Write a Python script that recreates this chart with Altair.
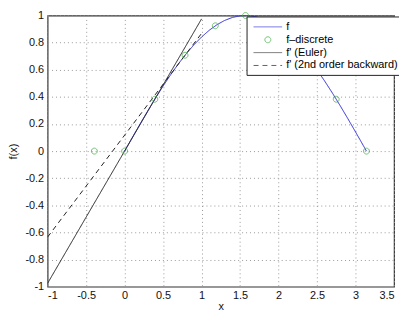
import altair as alt
import pandas as pd

series_names = ["f", "f\u2013discrete", "f' (Euler)", "f' (2nd order backward)"]
series_colors = ["#2a2ad6", "#3aa83a", "#222222", "#222222"]

f_x = [0, 0.1, 0.2, 0.3, 0.4, 0.5, 0.6, 0.7, 0.8, 0.9, 1.0, 1.1, 1.2, 1.3, 1.4, 1.5,
       1.6, 1.7, 1.8, 1.9, 2.0, 2.1, 2.2, 2.3, 2.4, 2.5, 2.6, 2.7, 2.8, 2.9, 3.0, 3.1, 3.1416]
f_y = [0, 0.0998, 0.1987, 0.2955, 0.3894, 0.4794, 0.5646, 0.6442, 0.7174, 0.7833, 0.8415,
       0.8912, 0.9320, 0.9636, 0.9854, 0.9975, 0.9996, 0.9917, 0.9738, 0.9463, 0.9093,
       0.8632, 0.8085, 0.7457, 0.6755, 0.5985, 0.5155, 0.4274, 0.3350, 0.2392, 0.1411,
       0.0416, 0]

disc_x = [-0.3927, 0, 0.3927, 0.7854, 1.1781, 1.5708, 2.7489, 3.1416]
disc_y = [0, 0, 0.3827, 0.7071, 0.9239, 1.0, 0.3827, 0]

euler_x = [-1, 1]
euler_y = [-0.975, 0.975]

back_x = [-1, 1]
back_y = [-0.634, 0.868]

x_ticks = [-1, -0.5, 0, 0.5, 1, 1.5, 2, 2.5, 3, 3.5]
y_ticks = [-1, -0.8, -0.6, -0.4, -0.2, 0, 0.2, 0.4, 0.6, 0.8, 1]

rows = []
for xs, ys, name in [(f_x, f_y, series_names[0]), (euler_x, euler_y, series_names[2]),
                     (back_x, back_y, series_names[3])]:
    for i, (a, b) in enumerate(zip(xs, ys)):
        rows.append({"x": a, "y": b, "series": name, "order": i})
lines_df = pd.DataFrame(rows)
disc_df = pd.DataFrame({"x": disc_x, "y": disc_y, "series": series_names[1]})

font = "Liberation Sans"
label_expr = "replace(format(datum.value, '~g'), '\u2212', '-')"

# unit-box symbol paths: a long horizontal stroke and a small circle
stroke_path = "M-2.4,0H2.4"
circle_path = "M0.5,0A0.5,0.5 0 1,1 -0.5,0A0.5,0.5 0 1,1 0.5,0Z"

xenc = alt.X("x:Q", scale=alt.Scale(domain=[-1, 3.5], nice=False),
             axis=alt.Axis(values=x_ticks, title="x", labelExpr=label_expr,
                           labelPadding=3, titlePadding=0))
yenc = alt.Y("y:Q", scale=alt.Scale(domain=[-1, 1], nice=False),
             axis=alt.Axis(values=y_ticks, title="f(x)", labelExpr=label_expr,
                           labelPadding=4, titlePadding=6))

legend = alt.Legend(orient="none", legendX=201, legendY=1, title=None,
                    strokeColor="#222", fillColor="white", padding=4,
                    labelFont=font, labelFontSize=11, symbolStrokeWidth=1,
                    symbolSize=144, symbolOffset=11, rowPadding=1, labelOffset=12,
                    cornerRadius=0)

color = alt.Color("series:N", scale=alt.Scale(domain=series_names, range=series_colors),
                  sort=series_names, title=None, legend=legend)

lines = alt.Chart(lines_df).mark_line(strokeWidth=1, clip=True).encode(
    x=xenc, y=yenc, color=color, detail="series:N", order="order:Q",
    strokeDash=alt.StrokeDash("series:N", scale=alt.Scale(domain=series_names,
                              range=[[1, 0], [1, 0], [1, 0], [5, 4]]), sort=series_names,
                              title=None, legend=legend),
)

points = alt.Chart(disc_df).mark_point(filled=False, strokeWidth=1, size=144).encode(
    x=xenc, y=yenc, color=color,
    shape=alt.Shape("series:N", scale=alt.Scale(domain=series_names,
                    range=[stroke_path, circle_path, stroke_path, stroke_path]),
                    sort=series_names, title=None, legend=legend),
)

chart = alt.layer(lines, points).properties(
    width=350, height=274, padding={"left": 40, "top": 6, "right": 5, "bottom": 26},
    autosize=alt.AutoSizeParams(type="none"),
).configure_view(stroke="#333", strokeWidth=1.2).configure_axis(
    grid=True, gridDash=[1, 3], gridColor="#999", ticks=False, domain=False,
    labelFont=font, titleFont=font, labelFontSize=11, titleFontSize=11,
    titleFontWeight="normal", labelColor="#111", titleColor="#111",
)

chart.save("out.html", embed_options={"renderer": "svg", "actions": False})
